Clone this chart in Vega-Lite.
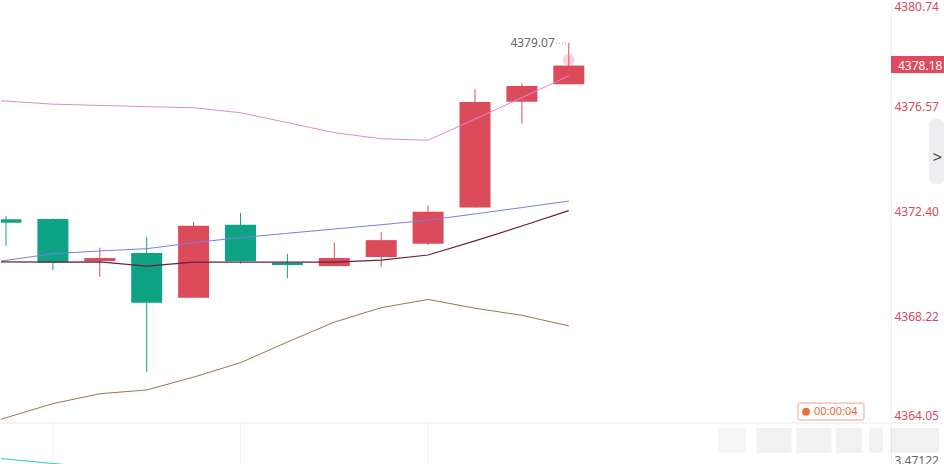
{
  "$schema": "https://vega.github.io/schema/vega-lite/v6.json",
  "padding": 0,
  "background": "#ffffff",
  "spacing": 0,
  "config": {"view": {"stroke": null}, "font": "Noto Sans", "text": {"font": "Noto Sans"}, "axis": {"labelFont": "Noto Sans"}},
  "datasets": {
    "candles": [
      {"i": 0, "open": 4372.09, "close": 4371.95, "high": 4372.22, "low": 4371.03},
      {"i": 1, "open": 4372.10, "close": 4370.37, "high": 4372.12, "low": 4370.08},
      {"i": 2, "open": 4370.43, "close": 4370.55, "high": 4370.96, "low": 4369.80},
      {"i": 3, "open": 4370.75, "close": 4368.78, "high": 4371.38, "low": 4366.04},
      {"i": 4, "open": 4368.98, "close": 4371.83, "high": 4371.99, "low": 4368.98},
      {"i": 5, "open": 4371.87, "close": 4370.42, "high": 4372.34, "low": 4370.33},
      {"i": 6, "open": 4370.37, "close": 4370.27, "high": 4370.72, "low": 4369.75},
      {"i": 7, "open": 4370.23, "close": 4370.55, "high": 4371.16, "low": 4370.23},
      {"i": 8, "open": 4370.59, "close": 4371.26, "high": 4371.58, "low": 4370.20},
      {"i": 9, "open": 4371.12, "close": 4372.39, "high": 4372.63, "low": 4371.07},
      {"i": 10, "open": 4372.55, "close": 4376.74, "high": 4377.24, "low": 4372.55},
      {"i": 11, "open": 4376.75, "close": 4377.37, "high": 4377.48, "low": 4375.88},
      {"i": 12, "open": 4377.44, "close": 4378.18, "high": 4379.07, "low": 4377.44}
    ],
    "bands": [
      {"i": -1, "up": 4376.89, "mid": 4370.19, "ma": 4370.40, "lo": 4363.64},
      {"i": 0, "up": 4376.77, "mid": 4370.46, "ma": 4370.40, "lo": 4364.22},
      {"i": 1, "up": 4376.65, "mid": 4370.72, "ma": 4370.39, "lo": 4364.78},
      {"i": 2, "up": 4376.60, "mid": 4370.83, "ma": 4370.40, "lo": 4365.17},
      {"i": 3, "up": 4376.55, "mid": 4370.92, "ma": 4370.23, "lo": 4365.32},
      {"i": 4, "up": 4376.51, "mid": 4371.16, "ma": 4370.39, "lo": 4365.83},
      {"i": 5, "up": 4376.31, "mid": 4371.36, "ma": 4370.39, "lo": 4366.40},
      {"i": 6, "up": 4375.92, "mid": 4371.53, "ma": 4370.39, "lo": 4367.22},
      {"i": 7, "up": 4375.52, "mid": 4371.70, "ma": 4370.39, "lo": 4368.01},
      {"i": 8, "up": 4375.28, "mid": 4371.87, "ma": 4370.47, "lo": 4368.58},
      {"i": 9, "up": 4375.22, "mid": 4372.05, "ma": 4370.67, "lo": 4368.91},
      {"i": 10, "up": 4376.06, "mid": 4372.30, "ma": 4371.23, "lo": 4368.56},
      {"i": 11, "up": 4376.91, "mid": 4372.55, "ma": 4371.82, "lo": 4368.28},
      {"i": 12, "up": 4377.77, "mid": 4372.81, "ma": 4372.43, "lo": 4367.86}
    ],
    "osc": [
      {"i": -1, "v": 3.596},
      {"i": 0, "v": 3.494},
      {"i": 1, "v": 3.384},
      {"i": 2, "v": 3.276},
      {"i": 3, "v": 3.166}
    ],
    "grid": [{"i": 1}, {"i": 5}, {"i": 9}],
    "blur": [
      {"a": 15.18, "b": 15.78, "t": 4.27, "u": 3.65, "o": 0.18},
      {"a": 16.0, "b": 16.75, "t": 4.27, "u": 3.65, "o": 0.3},
      {"a": 16.85, "b": 17.6, "t": 4.27, "u": 3.65, "o": 0.28},
      {"a": 17.7, "b": 18.25, "t": 4.27, "u": 3.65, "o": 0.3},
      {"a": 18.4, "b": 18.7, "t": 4.27, "u": 3.65, "o": 0.25},
      {"a": 18.85, "b": 19.9, "t": 4.27, "u": 3.65, "o": 0.3}
    ]
  },
  "vconcat": [
    {
      "width": 890,
      "height": 421,
      "layer": [
        {
          "data": {"name": "candles"},
          "mark": {"type": "rule", "strokeWidth": 1, "clip": true},
          "encoding": {
            "x": {"field": "i", "type": "quantitative", "scale": {"domain": [-0.1066, 18.87], "nice": false, "zero": false, "padding": 0}, "axis": null},
            "y": {"field": "low", "type": "quantitative", "title": null,
              "scale": {"domain": [4364.05, 4380.74], "nice": false, "zero": false, "padding": 0},
              "axis": {"orient": "right", "values": [4364.05, 4368.22, 4372.40, 4376.57, 4380.74], "format": ".2f", "labelFlush": true, "ticks": false, "grid": false, "domain": true, "domainColor": "#eeeeee", "labelColor": "#d8495f", "labelFontSize": 12, "labelPadding": 3, "title": null}},
            "y2": {"field": "high"},
            "color": {"condition": {"test": "datum.close >= datum.open", "value": "#dc4b5a"}, "value": "#0fa386"}
          }
        },
        {
          "data": {"name": "candles"},
          "mark": {"type": "bar", "size": 31, "clip": true},
          "encoding": {
            "x": {"field": "i", "type": "quantitative"},
            "y": {"field": "open", "type": "quantitative", "title": null},
            "y2": {"field": "close"},
            "color": {"condition": {"test": "datum.close >= datum.open", "value": "#dc4b5a"}, "value": "#0fa386"}
          }
        },
        {
          "mark": {"type": "rule", "strokeDash": [2, 3], "color": "#f2a3b3", "strokeWidth": 1},
          "encoding": {"y": {"datum": 4378.18, "type": "quantitative", "title": null}}
        },
        {
          "data": {"name": "bands"},
          "mark": {"type": "line", "color": "#d98bd6", "strokeWidth": 1, "clip": true},
          "encoding": {"x": {"field": "i", "type": "quantitative"}, "y": {"field": "up", "type": "quantitative", "title": null}}
        },
        {
          "data": {"name": "bands"},
          "mark": {"type": "line", "color": "#7280e3", "strokeWidth": 1, "clip": true},
          "encoding": {"x": {"field": "i", "type": "quantitative"}, "y": {"field": "mid", "type": "quantitative", "title": null}}
        },
        {
          "data": {"name": "bands"},
          "mark": {"type": "line", "color": "#6b1f3c", "strokeWidth": 1.2, "clip": true},
          "encoding": {"x": {"field": "i", "type": "quantitative"}, "y": {"field": "ma", "type": "quantitative", "title": null}}
        },
        {
          "data": {"name": "bands"},
          "mark": {"type": "line", "color": "#a5704d", "strokeWidth": 1, "clip": true},
          "encoding": {"x": {"field": "i", "type": "quantitative"}, "y": {"field": "lo", "type": "quantitative", "title": null}}
        },
        {
          "data": {"values": [{"i": 12, "p": 4378.4}]},
          "mark": {"type": "point", "filled": true, "size": 140, "color": "#f07085", "opacity": 0.3},
          "encoding": {"x": {"field": "i", "type": "quantitative"}, "y": {"field": "p", "type": "quantitative", "title": null}}
        },
        {
          "data": {"values": [{"a": 11.73, "b": 12.0, "p": 4379.07}]},
          "mark": {"type": "rule", "strokeDash": [1, 2], "color": "#888888", "strokeWidth": 1},
          "encoding": {"x": {"field": "a", "type": "quantitative"}, "x2": {"field": "b"}, "y": {"field": "p", "type": "quantitative", "title": null}}
        },
        {
          "data": {"values": [{"i": 12, "p": 4379.07, "t": "4379.07"}]},
          "mark": {"type": "text", "align": "right", "baseline": "middle", "dx": -14, "fontSize": 12, "color": "#666666"},
          "encoding": {"x": {"field": "i", "type": "quantitative"}, "y": {"field": "p", "type": "quantitative", "title": null}, "text": {"field": "t"}}
        },
        {
          "data": {"values": [{"a": 16.887, "b": 18.294, "t": 4364.80, "u": 4364.13}]},
          "mark": {"type": "rect", "fill": "#ffffff", "stroke": "#f3a486", "strokeWidth": 1, "cornerRadius": 2},
          "encoding": {"x": {"field": "a", "type": "quantitative"}, "x2": {"field": "b"}, "y": {"field": "t", "type": "quantitative", "title": null}, "y2": {"field": "u"}}
        },
        {
          "data": {"values": [{"i": 17.058, "p": 4364.46}]},
          "mark": {"type": "point", "filled": true, "size": 60, "color": "#ef6a3c", "opacity": 1},
          "encoding": {"x": {"field": "i", "type": "quantitative"}, "y": {"field": "p", "type": "quantitative", "title": null}}
        },
        {
          "data": {"values": [{"i": 17.228, "p": 4364.46, "t": "00:00:04"}]},
          "mark": {"type": "text", "align": "left", "baseline": "middle", "fontSize": 11, "color": "#ef6a3c"},
          "encoding": {"x": {"field": "i", "type": "quantitative"}, "y": {"field": "p", "type": "quantitative", "title": null}, "text": {"field": "t"}}
        },
        {
          "data": {"values": [{"a": 18.87, "b": 20.0, "t": 4378.56, "u": 4377.89}]},
          "mark": {"type": "rect", "fill": "#e04a5e"},
          "encoding": {"x": {"field": "a", "type": "quantitative"}, "x2": {"field": "b"}, "y": {"field": "t", "type": "quantitative", "title": null}, "y2": {"field": "u"}}
        },
        {
          "data": {"values": [{"i": 18.955, "p": 4378.18, "t": "4378.18"}]},
          "mark": {"type": "text", "align": "left", "baseline": "middle", "dx": 3, "fontSize": 12, "color": "#ffffff"},
          "encoding": {"x": {"field": "i", "type": "quantitative"}, "y": {"field": "p", "type": "quantitative", "title": null}, "text": {"field": "t"}}
        },
        {
          "data": {"values": [{"a": 19.68, "b": 20.0, "t": 4376.06, "u": 4373.48}]},
          "mark": {"type": "rect", "fill": "#eeeef1", "cornerRadius": 6},
          "encoding": {"x": {"field": "a", "type": "quantitative"}, "x2": {"field": "b"}, "y": {"field": "t", "type": "quantitative", "title": null}, "y2": {"field": "u"}}
        },
        {
          "data": {"values": [{"i": 19.86, "p": 4374.52, "t": ">"}]},
          "mark": {"type": "text", "align": "center", "baseline": "middle", "fontSize": 17, "color": "#4a4a4a"},
          "encoding": {"x": {"field": "i", "type": "quantitative"}, "y": {"field": "p", "type": "quantitative", "title": null}, "text": {"field": "t"}}
        }
      ]
    },
    {
      "width": 890,
      "height": 80,
      "layer": [
        {
          "data": {"name": "grid"},
          "mark": {"type": "rule", "color": "#f0f0f0", "strokeWidth": 1},
          "encoding": {
            "x": {"field": "i", "type": "quantitative", "scale": {"domain": [-0.1066, 18.87], "nice": false, "zero": false, "padding": 0}, "axis": null}
          }
        },
        {
          "data": {"name": "osc"},
          "mark": {"type": "line", "color": "#33c0cc", "strokeWidth": 1, "clip": true},
          "encoding": {
            "x": {"field": "i", "type": "quantitative"},
            "y": {"field": "v", "type": "quantitative", "title": null,
              "scale": {"domain": [2.39622, 4.39622], "nice": false, "zero": false},
              "axis": {"orient": "right", "values": [3.47122], "format": ".5f", "ticks": false, "grid": false, "domain": true, "domainColor": "#eeeeee", "labelColor": "#666666", "labelFontSize": 12, "labelPadding": 3, "title": null}}
          }
        },
        {
          "data": {"name": "blur"},
          "mark": {"type": "rect", "fill": "#cfcfcf"},
          "encoding": {"x": {"field": "a", "type": "quantitative"}, "x2": {"field": "b"}, "y": {"field": "t", "type": "quantitative", "title": null}, "y2": {"field": "u"}, "opacity": {"field": "o", "type": "quantitative", "scale": null, "legend": null}}
        },
        {
          "data": {"values": [{"a": -0.1066, "b": 20.0, "p": 4.39622}]},
          "mark": {"type": "rule", "color": "#eaeaea", "strokeWidth": 1},
          "encoding": {"x": {"field": "a", "type": "quantitative"}, "x2": {"field": "b"}, "y": {"field": "p", "type": "quantitative", "title": null}}
        }
      ]
    }
  ]
}
